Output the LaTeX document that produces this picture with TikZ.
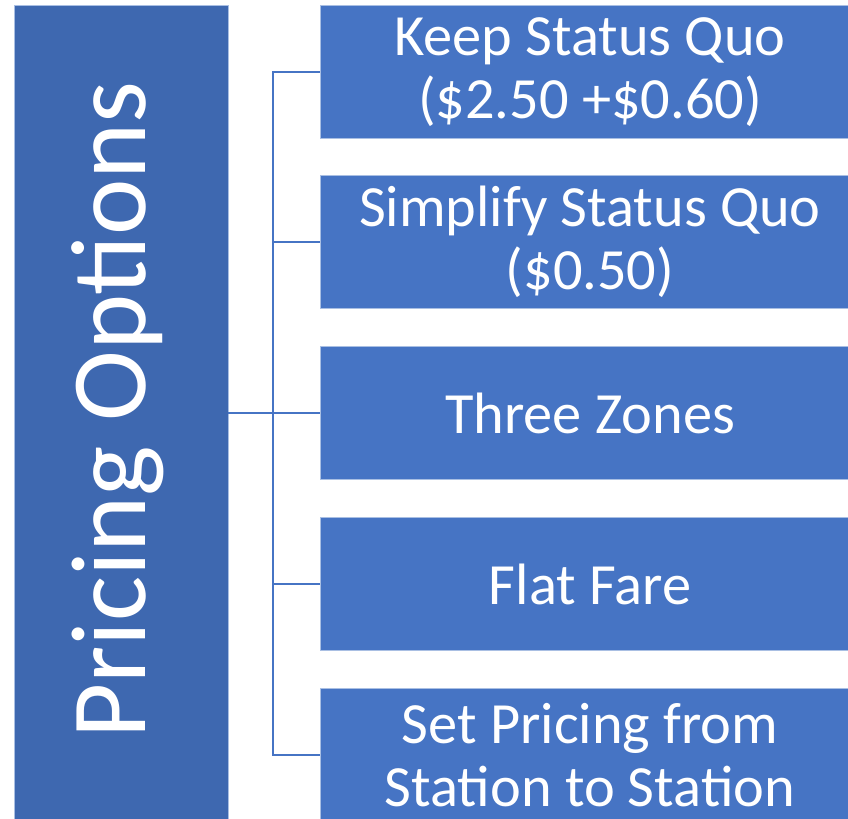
\documentclass[tikz,border=0pt]{standalone}
\usepackage{fontspec}
\setmainfont{Carlito}
\usetikzlibrary{positioning}

\definecolor{leftblue}{HTML}{3E68B0}
\definecolor{boxblue}{HTML}{4674C4}
\definecolor{edgeblue}{HTML}{A9BFE3}

\tikzset{
    optbox/.style={fill=boxblue, draw=edgeblue, line width=0.6pt, text=white,
        minimum width=540*0.025cm, minimum height=133*0.025cm, align=center,
        inner sep=0pt, font=\fontsize{41.5}{45}\selectfont},
    link/.style={draw=boxblue, line width=2pt}
}

\begin{document}
\begin{tikzpicture}[x=0.025cm, y=-0.025cm]
        \useasboundingbox (0,0) rectangle (848,818);
        \clip (0,0) rectangle (848,818);

        % the main box
        \node[fill=leftblue, draw=edgeblue, line width=0.6pt, minimum width=214*0.025cm,
            minimum height=816*0.025cm, inner sep=0pt] (opts) at (121,413) {};
        \node[text=white, rotate=90, font=\fontsize{76}{80}\selectfont] (title) at (118,410) {Pricing Options};

        % the options
        \node[optbox] (o1) at (590,72) {Keep Status Quo\\(\$2.50 +\$0.60)};
        \node[optbox] (o2) at (590,242) {Simplify Status Quo\\(\$0.50)};
        \node[optbox] (o3) at (590,413) {Three Zones};
        \node[optbox] (o4) at (590,584) {Flat Fare};
        \node[optbox] (o5) at (590,755) {Set Pricing from\\Station to Station};

        % the connectors
        \coordinate (hub) at (273,413);
        \draw[link] (opts.east |- hub) -- (hub);
        \draw[link] (hub) |- (o1.west);
        \draw[link] (hub) |- (o2.west);
        \draw[link] (hub) -- (o3.west);
        \draw[link] (hub) |- (o4.west);
        \draw[link] (hub) |- (o5.west);

    \end{tikzpicture}
\end{document}
